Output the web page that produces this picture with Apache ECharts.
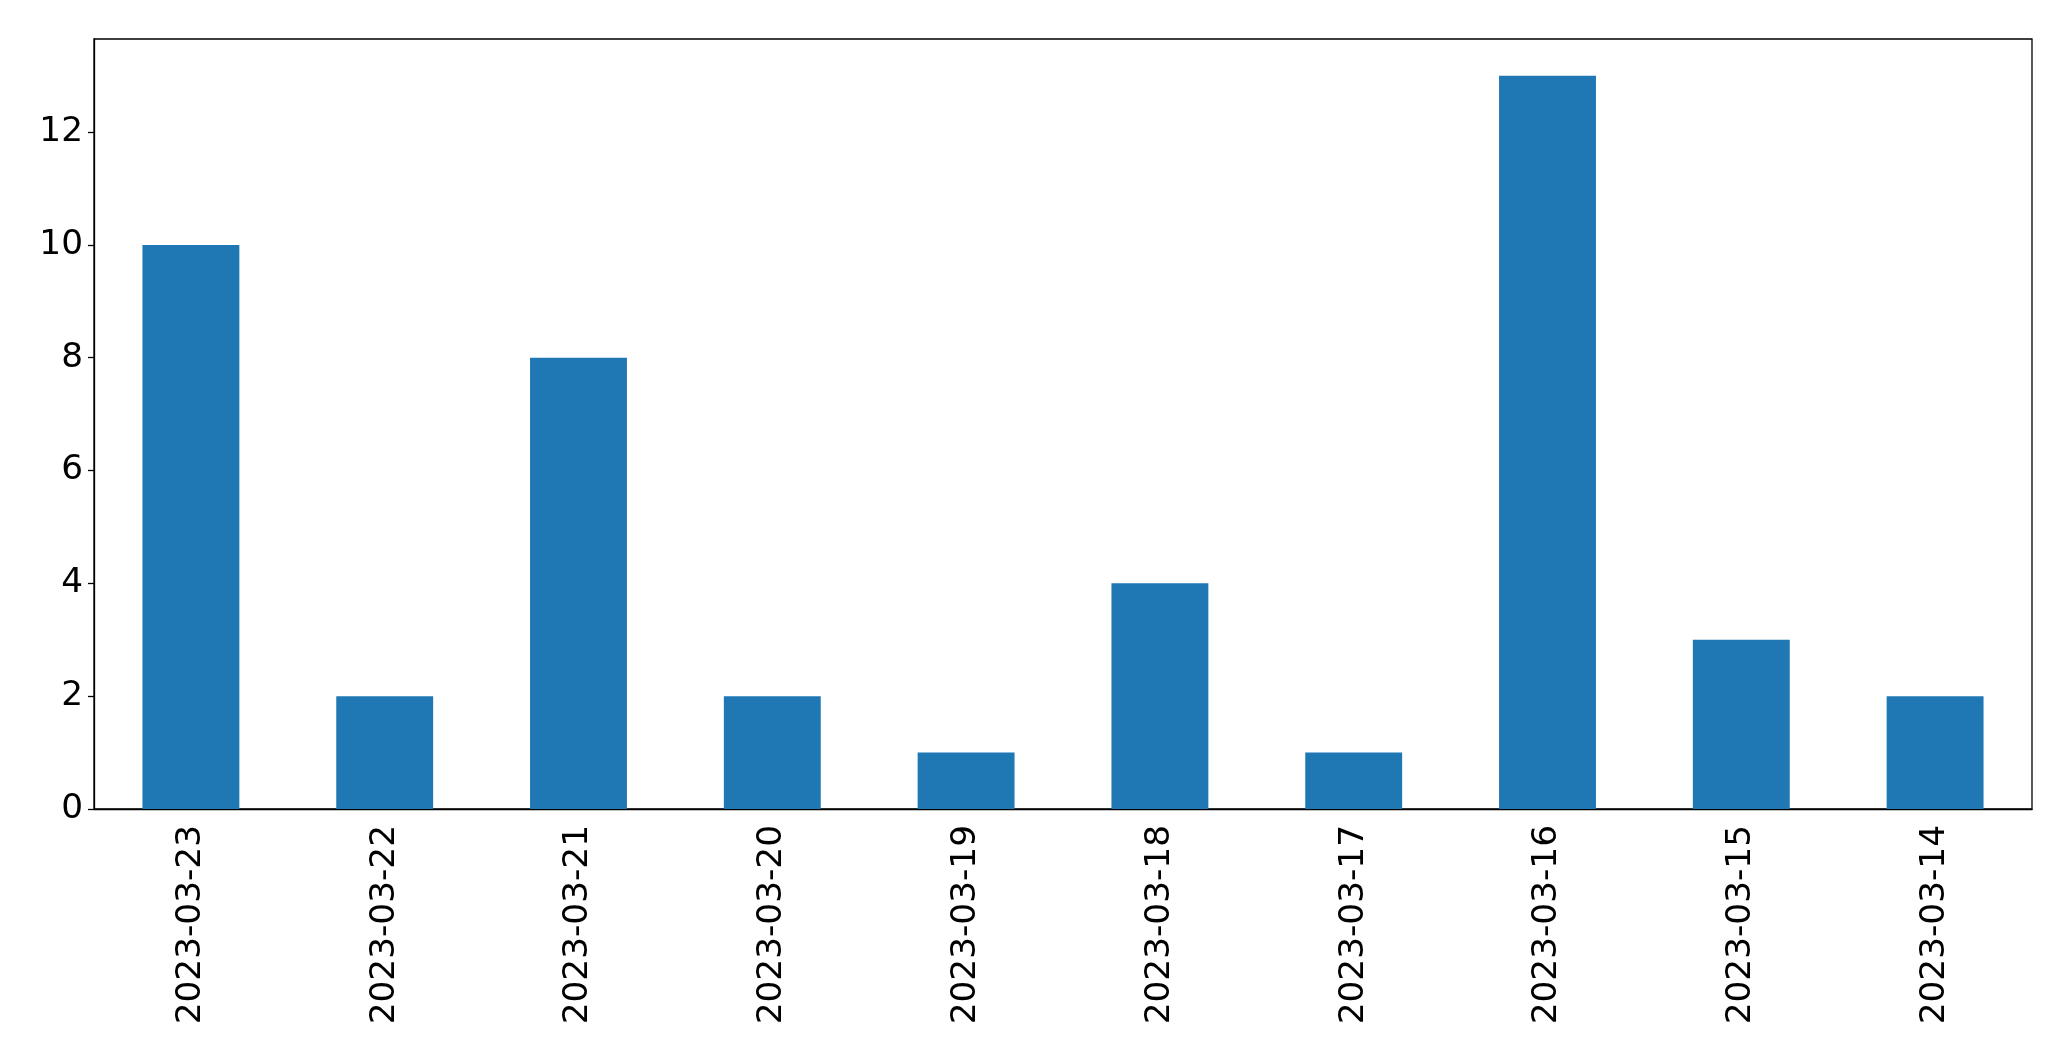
<!DOCTYPE html>
<html><head><meta charset="utf-8">
<script src="https://cdn.jsdelivr.net/npm/echarts@6/dist/echarts.min.js"></script>
<style>html,body{margin:0;padding:0;background:#fff}#c{width:2071px;height:1061px}</style>
</head><body><div id="c"></div>
<script>
const categories = ["2023-03-23","2023-03-22","2023-03-21","2023-03-20","2023-03-19","2023-03-18","2023-03-17","2023-03-16","2023-03-15","2023-03-14"];
const values = [10, 2, 8, 2, 1, 4, 1, 13, 3, 2];
const yTicks = [0, 2, 4, 6, 8, 10, 12];

const chart = echarts.init(document.getElementById('c'), null, {renderer: 'canvas'});
chart.setOption({
  animation: false,
  backgroundColor: '#fff',
  grid: {left: 94, right: 39, top: 39, bottom: 252, show: true, borderColor: '#000', borderWidth: 1.3, containLabel: false},
  xAxis: {
    type: 'category', data: categories,
    axisLine: {lineStyle: {color: '#000', width: 1.3}},
    axisTick: {alignWithLabel: true, length: 6, lineStyle: {color: '#000', width: 1.3}},
    axisLabel: {rotate: 90, color: '#000', fontFamily: 'DejaVu Sans', fontSize: 34.3, margin: 16, interval: 0}
  },
  yAxis: {
    type: 'value', min: 0, max: 13.65, interval: 2,
    splitLine: {show: false},
    axisLine: {show: true, lineStyle: {color: '#000', width: 1.3}},
    axisTick: {show: true, length: 6, lineStyle: {color: '#000', width: 1.3}},
    axisLabel: {color: '#000', fontFamily: 'DejaVu Sans', fontSize: 34.3, margin: 11, showMaxLabel: false,
      padding: [7, 0, 0, 0],
      formatter: v => yTicks.includes(v) ? String(v) : ''}
  },
  series: [{type: 'bar', data: values, barWidth: '50%', itemStyle: {color: '#1f77b4'}}]
});
</script></body></html>
